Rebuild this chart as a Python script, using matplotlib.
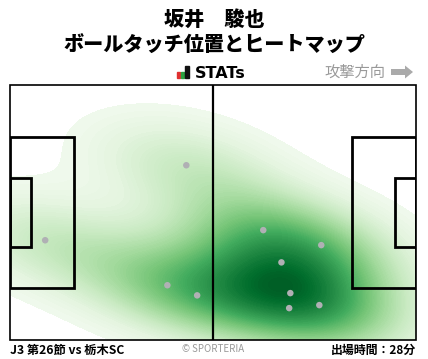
import numpy as np
import matplotlib
matplotlib.use("Agg")
import matplotlib.pyplot as plt
import matplotlib.patches as mpatches
import seaborn as sns
from matplotlib.colors import LinearSegmentedColormap

plt.rcParams['font.family'] = ['Noto Sans CJK JP', 'DejaVu Sans']

# touch positions in metres (x: 0-105 attacking right, y: 0-68 from bottom)
touch_x = [45.6, 9.1, 40.7, 48.4, 65.5, 80.5, 70.2, 72.5, 72.2, 80.0]
touch_y = [46.6, 26.6, 14.6, 11.9, 29.3, 25.3, 20.7, 12.5, 8.5, 9.3]

player = "坂井　駿也"
subtitle = "ボールタッチ位置とヒートマップ"
match_label = "J3 第26節 vs 栃木SC"
minutes_label = "出場時間：28分"

W, H = 428, 359
fig = plt.figure(figsize=(W / 100, H / 100), dpi=100)

# pitch axes (pixel box 10..416 x 85..340)
ax = fig.add_axes([10 / W, (H - 340) / H, 406 / W, 255 / H])

cmap = LinearSegmentedColormap.from_list(
    'g', plt.cm.Greens(np.linspace(0.05, 0.92, 256)))
sns.kdeplot(x=touch_x, y=touch_y, fill=True, cmap=cmap, levels=100,
            thresh=0.015, bw_adjust=1.15, clip=((0, 105), (0, 68)),
            gridsize=200, ax=ax, zorder=1)

ax.scatter(touch_x, touch_y, s=22, color='#b0b0b4', edgecolors='none',
           zorder=3)

ax.set_xlim(0, 105)
ax.set_ylim(0, 68)
ax.axis('off')

# pitch lines
lc = 'black'
ax.add_patch(mpatches.Rectangle((0, 0), 105, 68, fill=False, lw=1.2,
                                ec=lc, zorder=4, clip_on=False))
ax.plot([52.5, 52.5], [0, 68], color=lc, lw=1.6, zorder=4)
for x0, w in [(0, 16.5), (105 - 16.5, 16.5)]:
    ax.add_patch(mpatches.Rectangle((x0, 34 - 20.16), w, 40.32, fill=False,
                                    lw=2, ec=lc, zorder=4))
for x0, w in [(0, 5.5), (105 - 5.5, 5.5)]:
    ax.add_patch(mpatches.Rectangle((x0, 34 - 9.16), w, 18.32, fill=False,
                                    lw=2, ec=lc, zorder=4))

# decoration overlay in pixel coordinates
ov = fig.add_axes([0, 0, 1, 1], zorder=-1)
ov.set_xlim(0, W)
ov.set_ylim(H, 0)
ov.axis('off')

ov.text(W / 2, 20, player, ha='center', va='center', fontsize=14.5,
        fontweight='heavy')
ov.text(W / 2, 46, subtitle, ha='center', va='center', fontsize=14.5,
        fontweight='heavy')

# STATs logo
ov.add_patch(mpatches.Rectangle((177, 72), 3, 6, color='#e03030'))
ov.add_patch(mpatches.Rectangle((181, 72), 3, 6, color='#2aa040'))
ov.add_patch(mpatches.Rectangle((185, 66), 4, 12, color='#111111'))
ov.text(195, 73, "STATs", ha='left', va='center', fontsize=11.5,
        fontweight='bold', family='DejaVu Sans')

ov.text(385, 72, "攻撃方向", ha='right', va='center', fontsize=11,
        color='#999999')
ov.add_patch(mpatches.FancyArrow(391, 72, 14, 0, width=6, head_width=13,
                                 head_length=8, color='#aaaaaa', lw=0))

ov.text(10, 350, match_label, ha='left', va='center', fontsize=8.8,
        fontweight='bold')
ov.text(213, 349, "© SPORTERIA", ha='center', va='center', fontsize=7,
        color='#999999')
ov.text(416, 350, minutes_label, ha='right', va='center', fontsize=8.6,
        fontweight='bold')

fig.savefig('out.png', dpi=100)
